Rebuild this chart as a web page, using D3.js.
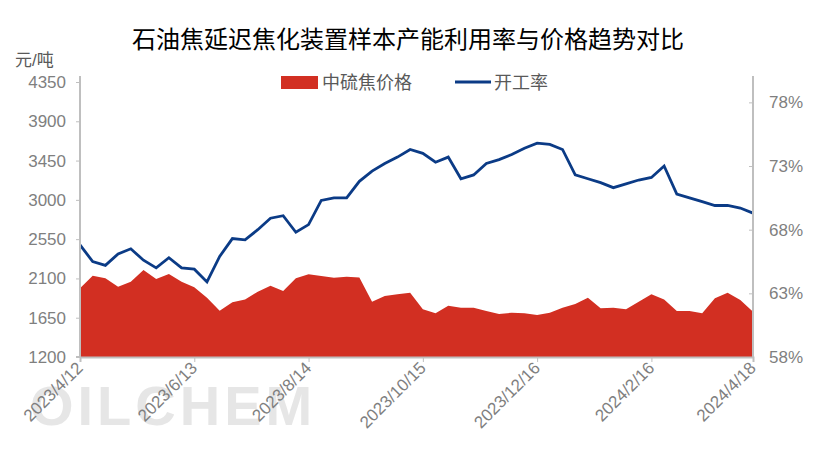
<!DOCTYPE html>
<html>
<head>
<meta charset="utf-8">
<script src="https://cdn.jsdelivr.net/npm/d3@7"></script>
<style>
  body { margin: 0; background: #fff; }
  text { font-family: "Liberation Sans", "Noto Sans CJK SC", sans-serif; }
</style>
</head>
<body>
<div class="chart"></div>
<script>
// weekly data, 2023/4/12 .. 2024/4/18
const price = [1987,2131,2101,2005,2062,2196,2093,2150,2062,1998,1879,1730,1826,1860,1948,2016,1956,2101,2147,2127,2108,2119,2112,1833,1898,1918,1936,
  1746,1700,1787,1764,1764,1727,1692,1707,1700,1681,1707,1764,1807,1879,1757,1764,1746,1833,1918,1860,1727,1727,1700,1872,1936,1853,1719];
const rate = [66.8,65.5,65.2,66.1,66.5,65.6,65.0,65.8,65.0,64.9,63.9,65.9,67.3,67.2,68.0,68.9,69.1,67.8,68.4,70.3,70.5,70.5,71.8,72.6,73.2,73.7,74.3,
  74.0,73.3,73.7,72.0,72.3,73.2,73.5,73.9,74.4,74.8,74.7,74.3,72.3,72.0,71.7,71.3,71.6,71.9,72.1,73.0,70.8,70.5,70.2,69.9,69.9,69.7,69.3];
const xLabels = [[0,"2023/4/12"],[9,"2023/6/13"],[18,"2023/8/14"],[27,"2023/10/15"],[36,"2023/12/16"],[45,"2024/2/16"],[53,"2024/4/18"]];
const leftTicks = [1200,1650,2100,2550,3000,3450,3900,4350];
const rightTicks = [58,63,68,73,78];

const W = 815, H = 461;
const m = {left: 80, right: 753, top: 82, bottom: 357};

const svg = d3.select(".chart").append("svg").attr("width", W).attr("height", H);

const x = d3.scaleLinear().domain([0, price.length - 1]).range([m.left, m.right]);
const yL = d3.scaleLinear().domain([1200, 4350]).range([m.bottom, m.top]);
const yR = d3.scaleLinear().domain([58, 79.6]).range([m.bottom, m.top]);

// watermark
svg.append("text").attr("x", 30).attr("y", 425).attr("font-size", 56).attr("font-weight", "bold")
  .attr("fill", "#e6e6e6").attr("letter-spacing", 4).text("OILCHEM");

svg.append("path").datum(price)
  .attr("fill", "#d22f22")
  .attr("d", d3.area().x((d, i) => x(i)).y0(m.bottom).y1(d => yL(d)));

svg.append("path").datum(rate)
  .attr("fill", "none").attr("stroke", "#0b3b86").attr("stroke-width", 2.8)
  .attr("d", d3.line().x((d, i) => x(i)).y(d => yR(d)));

// axes
const gL = svg.append("g").attr("transform", `translate(${m.left},0)`)
  .call(d3.axisLeft(yL).tickValues(leftTicks).tickSize(4).tickPadding(10).tickFormat(d => d));
const gR = svg.append("g").attr("transform", `translate(${m.right},0)`)
  .call(d3.axisRight(yR).tickValues(rightTicks).tickSize(-4).tickPadding(16).tickFormat(d => d + "%"));
const gB = svg.append("g").attr("transform", `translate(0,${m.bottom})`)
  .call(d3.axisBottom(x).tickValues(xLabels.map(d => d[0])).tickSize(5).tickFormat(""));
[gL, gR, gB].forEach(g => {
  g.select(".domain").attr("stroke", "#bfbfbf").attr("stroke-width", 2);
  g.selectAll(".tick line").attr("stroke", "#bfbfbf");
  g.selectAll("text").attr("fill", "#7f7f7f").attr("font-size", 17);
});
gL.select(".domain").attr("d", `M-4,${m.bottom}H0V${m.top - 6}`);
gR.select(".domain").attr("d", `M0,${m.bottom}V${m.top - 6}`);

svg.append("g").selectAll("text").data(xLabels).join("text")
  .attr("transform", d => `translate(${x(d[0]) + 4},${m.bottom + 12}) rotate(-45)`)
  .attr("text-anchor", "end").attr("font-size", 17).attr("fill", "#7f7f7f")
  .text(d => d[1]);

svg.append("text").attr("x", 15).attr("y", 66).attr("font-size", 17).attr("fill", "#595959").text("元/吨");

svg.append("text").attr("x", 408).attr("y", 48).attr("text-anchor", "middle")
  .attr("font-size", 24).attr("fill", "#000").text("石油焦延迟焦化装置样本产能利用率与价格趋势对比");

// legend
svg.append("rect").attr("x", 281).attr("y", 76).attr("width", 37).attr("height", 13).attr("fill", "#d22f22");
svg.append("text").attr("x", 322).attr("y", 89).attr("font-size", 18).attr("fill", "#595959").text("中硫焦价格");
svg.append("line").attr("x1", 455).attr("x2", 491).attr("y1", 82).attr("y2", 82)
  .attr("stroke", "#0b3b86").attr("stroke-width", 3);
svg.append("text").attr("x", 494).attr("y", 89).attr("font-size", 18).attr("fill", "#595959").text("开工率");
</script>
</body>
</html>
